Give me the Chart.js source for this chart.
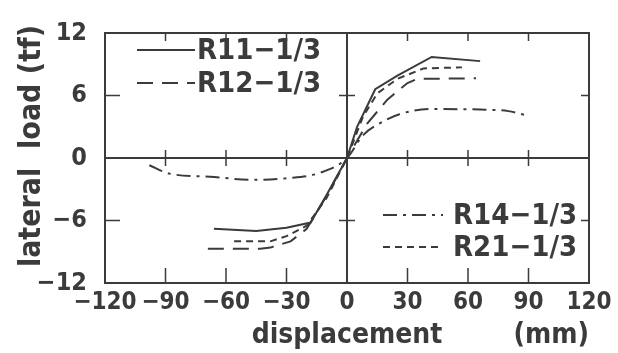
<!DOCTYPE html>
<html>
<head>
<meta charset="utf-8">
<script src="https://cdn.jsdelivr.net/npm/chart.js@4/dist/chart.umd.min.js"></script>
<style>
  html, body { margin: 0; padding: 0; background: #fff; }
  #wrap { width: 618px; height: 353px; }
</style>
</head>
<body>
<div id="wrap"><canvas id="c" width="618" height="353"></canvas></div>
<script>
// Data (displacement mm, lateral load tf)
const r11Disp = [-66, -45, -30, -18, -10, 0, 5, 14, 25, 42, 66];
const r11Load = [-6.8, -7.0, -6.7, -6.2, -3.5, 0, 3, 6.6, 7.9, 9.7, 9.3];

const r12Disp = [-69, -43, -38, -28, -20, -10, 0, 10, 20, 30, 35, 64];
const r12Load = [-8.7, -8.7, -8.6, -8.0, -6.8, -3.6, 0, 3.3, 5.6, 7.2, 7.6, 7.65];

const r14Disp = [-98, -88, -68, -46, -30, -13, 0, 8, 16, 26, 41, 66, 80, 89];
const r14Load = [-0.7, -1.5, -1.8, -2.1, -1.95, -1.4, 0, 2.2, 3.3, 4.2, 4.7, 4.65, 4.5, 4.1];

const r21Disp = [-56, -38, -30, -20, -10, 0, 8, 15, 25, 38, 57];
const r21Load = [-8.0, -8.0, -7.5, -6.5, -3.8, 0, 4, 6.2, 7.6, 8.6, 8.7];

const seriesNames = ['R11\u22121/3', 'R12\u22121/3', 'R14\u22121/3', 'R21\u22121/3'];
const xTickLabels = [-120, -90, -60, -30, 0, 30, 60, 90, 120];
const yTickLabels = [-12, -6, 0, 6, 12];

const ink = '#3b3b3b';
const fontFam = "'DejaVu Sans Condensed', 'Liberation Sans Narrow', 'DejaVu Sans', sans-serif";

const pts = (xs, ys) => xs.map((x, i) => ({ x, y: ys[i] }));
const minus = (v) => (v < 0 ? '\u2212' + Math.abs(v) : String(v));

const lineStyle = {
  showLine: true, pointRadius: 0, borderColor: ink, borderWidth: 2, tension: 0, fill: false,
};

// frame, zero axes and tick marks drawn from the scales
const framePlugin = {
  id: 'frame',
  afterDatasetsDraw(c) {
    const { ctx, chartArea: a, scales: { x, y } } = c;
    const x0 = x.getPixelForValue(0);
    const y0 = y.getPixelForValue(0);
    ctx.save();
    ctx.strokeStyle = ink;
    ctx.lineWidth = 2;
    ctx.setLineDash([]);
    ctx.strokeRect(a.left, a.top, a.right - a.left, a.bottom - a.top);
    ctx.beginPath();
    ctx.moveTo(a.left, y0); ctx.lineTo(a.right, y0);
    ctx.moveTo(x0, a.top); ctx.lineTo(x0, a.bottom);
    ctx.stroke();
    ctx.lineWidth = 1.5;
    ctx.beginPath();
    x.ticks.forEach((t) => {
      if (t.value === 0 || Math.abs(t.value) === 120) return;
      const px = x.getPixelForValue(t.value);
      ctx.moveTo(px, a.top); ctx.lineTo(px, a.top + 8);
      ctx.moveTo(px, a.bottom); ctx.lineTo(px, a.bottom - 15);
      ctx.moveTo(px, y0 - 8); ctx.lineTo(px, y0 + 8);
    });
    y.ticks.forEach((t) => {
      if (t.value === 0 || Math.abs(t.value) === 12) return;
      const py = y.getPixelForValue(t.value);
      ctx.moveTo(a.left, py); ctx.lineTo(a.left + 15, py);
      ctx.moveTo(a.right, py); ctx.lineTo(a.right - 8, py);
      ctx.moveTo(x0 - 8, py); ctx.lineTo(x0 + 8, py);
    });
    ctx.stroke();
    ctx.restore();
  },
};

// two legend groups and axis titles
const textPlugin = {
  id: 'texts',
  afterDraw(c) {
    const { ctx, chartArea: a } = c;
    ctx.save();
    ctx.fillStyle = ink;
    ctx.strokeStyle = ink;
    ctx.font = 'bold 29px ' + fontFam;
    ctx.textBaseline = 'middle';
    const spots = [
      { i: 0, x1: 137, x2: 195, tx: 197, y: 50 },
      { i: 1, x1: 137, x2: 195, tx: 197, y: 83 },
      { i: 2, x1: 383, x2: 443, tx: 453, y: 215 },
      { i: 3, x1: 383, x2: 443, tx: 453, y: 247 },
    ];
    spots.forEach((s) => {
      const ds = c.data.datasets[s.i];
      ctx.lineWidth = 2;
      ctx.setLineDash(ds.borderDash || []);
      ctx.beginPath();
      ctx.moveTo(s.x1, s.y); ctx.lineTo(s.x2, s.y);
      ctx.stroke();
      ctx.setLineDash([]);
      ctx.textAlign = 'left';
      ctx.fillText(ds.label, s.tx, s.y + 1);
    });
    // axis titles
    ctx.font = 'bold 28px ' + fontFam;
    ctx.textAlign = 'center';
    ctx.textBaseline = 'alphabetic';
    ctx.fillText('displacement', (a.left + a.right) / 2, 343);
    ctx.textAlign = 'right';
    ctx.fillText('(mm)', a.right, 343);
    ctx.font = 'bold 30px ' + fontFam;
    ctx.translate(40, 146);
    ctx.rotate(-Math.PI / 2);
    ctx.textAlign = 'center';
    ctx.fillText('lateral  load (tf)', 0, 0);
    ctx.restore();
  },
};

new Chart(document.getElementById('c'), {
  type: 'scatter',
  data: {
    datasets: [
      { ...lineStyle, label: seriesNames[0], data: pts(r11Disp, r11Load) },
      { ...lineStyle, label: seriesNames[1], data: pts(r12Disp, r12Load), borderDash: [16, 9] },
      { ...lineStyle, label: seriesNames[2], data: pts(r14Disp, r14Load), borderDash: [14, 6, 3, 6], cubicInterpolationMode: 'monotone' },
      { ...lineStyle, label: seriesNames[3], data: pts(r21Disp, r21Load), borderDash: [7, 5] },
    ],
  },
  options: {
    responsive: false,
    animation: false,
    layout: { padding: { top: 25, right: 29, left: 0, bottom: 0 } },
    scales: {
      x: {
        type: 'linear', min: -120, max: 120,
        afterFit: (s) => { s.height = 70; },
        border: { display: false },
        grid: { display: false, drawTicks: false },
        ticks: {
          stepSize: 30, padding: 5, color: ink,
          maxRotation: 0, minRotation: 0, autoSkip: false,
          font: { family: fontFam, size: 24, weight: 'bold' },
          callback: (v) => (xTickLabels.includes(v) ? minus(v) : ''),
        },
      },
      y: {
        type: 'linear', min: -12, max: 12,
        afterFit: (s) => { s.width = 105; },
        border: { display: false },
        grid: { display: false, drawTicks: false },
        ticks: {
          stepSize: 3, padding: 18, color: ink,
          font: { family: fontFam, size: 25, weight: 'bold' },
          callback: (v) => (yTickLabels.includes(v) ? minus(v) : ''),
        },
      },
    },
    plugins: {
      legend: { display: false },
      tooltip: { enabled: false },
    },
  },
  plugins: [framePlugin, textPlugin],
});
</script>
</body>
</html>
